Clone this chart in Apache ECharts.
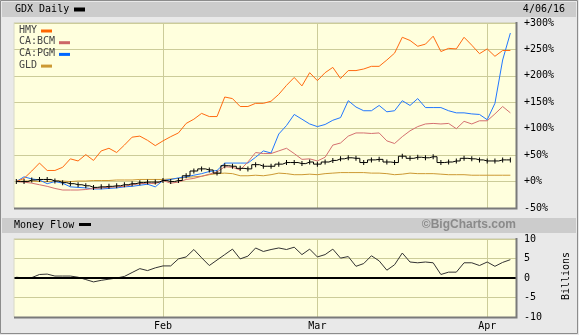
<!DOCTYPE html>
<html>
<head>
<meta charset="utf-8">
<script src="https://cdn.jsdelivr.net/npm/echarts@6/dist/echarts.min.js"></script>
<style>
  html, body { margin: 0; padding: 0; background: #e9e9e9; }
  #chart { width: 579px; height: 335px; }
</style>
</head>
<body>
<div id="chart"></div>
<script>
// Trading days, Jan 4 – Apr 6 2016
const dates = [
  '1/04','1/05','1/06','1/07','1/08','1/11','1/12','1/13','1/14','1/15',
  '1/19','1/20','1/21','1/22','1/25','1/26','1/27','1/28','1/29',
  '2/01','2/02','2/03','2/04','2/05','2/08','2/09','2/10','2/11','2/12',
  '2/16','2/17','2/18','2/19','2/22','2/23','2/24','2/25','2/26','2/29',
  '3/01','3/02','3/03','3/04','3/07','3/08','3/09','3/10','3/11','3/14',
  '3/15','3/16','3/17','3/18','3/21','3/22','3/23','3/24','3/28','3/29',
  '3/30','3/31',
  '4/01','4/04','4/05','4/06'
];

// Percent change since the first day
const hmy = [0,6,20,35,21,21,27,43,39,51, 40,58,63,55,69,84,86,78,68,77,
  85,92,110,118,129,123,123,160,157,142, 142,148,148,152,165,182,197,181,206,191,
  206,216,195,210,210,213,218,218,230,243, 273,267,256,260,275,246,252,251,273,258,
  242,251,237,248,248];
const bcm = [0,-1,-3,-6,-9,-13,-16,-16,-16,-15, -13,-12,-11,-10,-9,-6,-4,-3,-4,2,
  -3,-1,4,6,10,14,18,28,27,22, 37,55,53,53,58,63,53,42,43,39,
  46,69,73,86,92,92,91,92,77,72, 85,96,104,109,110,109,110,100,114,109,
  115,115,128,142,130];
const pgm = [0,9,5,3,-4,0,-3,-10,-11,-12, -14,-14,-13,-12,-10,-9,-7,-5,-10,2,
  4,7,9,12,15,19,21,35,35,35, 35,46,58,54,90,106,127,118,109,104,
  108,116,121,153,141,134,134,144,132,134, 153,144,157,140,140,140,134,130,130,128,
  127,117,148,230,281];
const gld = [0,1,1,0,0,1,1,0,1,1, 2,2,2,3,3,3,4,4,4,4,
  5,6,8,9,10,13,15,16,15,11, 11,12,11,13,16,15,13,13,14,13,
  15,16,17,17,17,17,16,16,15,13, 14,16,15,15,15,14,13,13,13,12,
  12,12,12,12,12];
const gdx = [0,0,3,4,4,1,-2,-4,-6,-8, -11,-10,-9,-8,-6,-4,-2,-1,-1,2,
  0,2,11,20,24,22,16,30,29,25, 24,32,29,29,33,36,36,34,37,33,
  37,40,43,45,44,36,41,42,37,36, 48,44,46,45,47,36,37,39,44,43,
  41,39,39,41,41];

// Money flow, billions
const moneyFlow = [0.2,0,0.1,0.9,1.0,0.5,0.5,0.5,0.2,-0.4, -1.0,-0.6,-0.3,0,0.4,1.4,2.4,1.9,2.6,3.1,
  3.1,4.9,5.4,7.3,5.2,3.2,4.6,6.0,7.4,4.9, 5.6,7.7,6.8,7.3,7.7,7.3,7.9,6.0,7.4,5.4,
  6.0,7.4,5.1,5.5,3.0,3.7,5.7,4.4,2.0,3.4, 6.4,4.1,3.9,4.1,3.9,0.9,1.5,1.5,3.9,3.9,
  3.2,4.1,3.0,4.0,4.7];

const monthLabels = ['Feb', 'Mar', 'Apr'];
const pctTicks = { min: -50, max: 300, step: 50 };
const flowTicks = { min: -10, max: 10, step: 5 };

const seriesInfo = [
  { name: 'HMY',    data: hmy, line: '#ff6a10', swatch: '#ff6600' },
  { name: 'CA:BCM', data: bcm, line: '#d47070', swatch: '#cc6666' },
  { name: 'CA:PGM', data: pgm, line: '#2277ff', swatch: '#0066ff' },
  { name: 'GLD',    data: gld, line: '#cc9933', swatch: '#cc9933' }
];

// First trading day of each new month
const monthStarts = [];
for (let i = 1; i < dates.length; i++) {
  if (dates[i].split('/')[0] !== dates[i - 1].split('/')[0]) monthStarts.push(i);
}

const pairs = arr => arr.map((v, i) => [i, v]);
const MONO = 'DejaVu Sans Mono';
const GRIDC = '#cccc99';
const xMin = -0.3, xMax = dates.length - 1 + 0.73;

function monthLines(xi, yi) {
  return {
    type: 'custom', xAxisIndex: xi, yAxisIndex: yi, silent: true, z: 1,
    data: monthStarts.map(i => [i, 0]),
    renderItem(params, api) {
      const x = Math.round(api.coord([api.value(0), 0])[0]) + 0.5;
      const cs = params.coordSys;
      return { type: 'line', shape: { x1: x, y1: cs.y, x2: x, y2: cs.y + cs.height },
               style: { stroke: GRIDC, lineWidth: 1 } };
    }
  };
}

const legendGraphics = [];
seriesInfo.forEach((s, k) => {
  const y = 31 + k * 11.7;
  legendGraphics.push({ type: 'text', left: 19, top: y - 6, z: 100, silent: true,
    style: { text: s.name, font: '10px ' + MONO, fill: '#444' } });
  legendGraphics.push({ type: 'rect', z: 100, silent: true,
    shape: { x: 19 + s.name.length * 6 + 4, y: y - 1.5, width: 11, height: 3 },
    style: { fill: s.swatch } });
});

const chart = echarts.init(document.getElementById('chart'), null, { renderer: 'canvas' });
chart.setOption({
  animation: false,
  backgroundColor: '#e9e9e9',
  grid: [
    { left: 14, top: 23, width: 502, height: 185, show: true, backgroundColor: '#ffffdd', borderWidth: 0 },
    { left: 14, top: 239, width: 502, height: 78, show: true, backgroundColor: '#ffffdd', borderWidth: 0 }
  ],
  xAxis: [
    { type: 'value', gridIndex: 0, min: xMin, max: xMax, show: false },
    { type: 'value', gridIndex: 1, min: xMin, max: xMax,
      axisLine: { show: false }, axisTick: { show: false }, splitLine: { show: false },
      axisLabel: { customValues: monthStarts, margin: 4, verticalAlign: 'top',
        fontFamily: MONO, fontSize: 10, color: '#000',
        formatter: v => monthLabels[monthStarts.indexOf(Math.round(v))] || '' } }
  ],
  yAxis: [
    { type: 'value', gridIndex: 0, position: 'right', min: pctTicks.min, max: pctTicks.max, interval: pctTicks.step,
      axisLine: { show: false }, axisTick: { show: false },
      splitLine: { lineStyle: { color: GRIDC, width: 1 } },
      axisLabel: { margin: 8, fontFamily: MONO, fontSize: 10, color: '#000',
        formatter: v => (v >= 0 ? '+' : '') + v + '%' } },
    { type: 'value', gridIndex: 1, position: 'right', min: flowTicks.min, max: flowTicks.max, interval: flowTicks.step,
      axisLine: { show: false }, axisTick: { show: false },
      splitLine: { lineStyle: { color: GRIDC, width: 1 } },
      axisLabel: { margin: 8, fontFamily: MONO, fontSize: 10, color: '#000' } }
  ],
  series: [
    monthLines(0, 0),
    monthLines(1, 1),
    ...seriesInfo.slice().reverse().map(s => ({
      type: 'line', name: s.name, xAxisIndex: 0, yAxisIndex: 0, z: 3,
      data: pairs(s.data), showSymbol: false, symbol: 'none',
      lineStyle: { color: s.line, width: 1 }
    })),
    { type: 'line', name: 'GDX', xAxisIndex: 0, yAxisIndex: 0, z: 4,
      data: pairs(gdx), step: 'middle', symbol: 'rect', symbolSize: [1, 5], showSymbol: true,
      itemStyle: { color: '#000' }, lineStyle: { color: '#000', width: 1 } },
    { type: 'line', name: 'Money Flow', xAxisIndex: 1, yAxisIndex: 1, z: 4,
      data: pairs(moneyFlow), symbol: 'none', showSymbol: false,
      lineStyle: { color: '#333', width: 1 },
      markLine: { silent: true, symbol: ['none', 'none'], label: { show: false },
        lineStyle: { color: '#000', width: 2, type: 'solid' }, data: [{ yAxis: 0 }] } }
  ],
  graphic: [
    { type: 'rect', z: 0, silent: true, shape: { x: 0.5, y: 0.5, width: 577, height: 333 },
      style: { fill: 'none', stroke: '#8c8c8c', lineWidth: 1 } },
    { type: 'rect', z: 0, silent: true, shape: { x: 2, y: 2, width: 574, height: 15 }, style: { fill: '#cccccc' } },
    { type: 'rect', z: 0, silent: true, shape: { x: 2, y: 218, width: 574, height: 15 }, style: { fill: '#cccccc' } },
    { type: 'text', left: 15, top: 4, z: 100, silent: true,
      style: { text: 'GDX Daily', font: '10px ' + MONO, fill: '#000' } },
    { type: 'rect', z: 100, silent: true, shape: { x: 74, y: 7.5, width: 11, height: 4 }, style: { fill: '#000' } },
    { type: 'text', right: 14, top: 4, z: 100, silent: true,
      style: { text: '4/06/16', font: '10px ' + MONO, fill: '#000' } },
    { type: 'text', left: 14, top: 220, z: 100, silent: true,
      style: { text: 'Money Flow', font: '10px ' + MONO, fill: '#000' } },
    { type: 'rect', z: 100, silent: true, shape: { x: 79, y: 223, width: 12, height: 3 }, style: { fill: '#000' } },
    { type: 'text', z: 100, silent: true, x: 516, y: 225,
      style: { text: '\u00a9BigCharts.com', font: 'bold 12px "Liberation Sans"', fill: '#8a8a8a',
               align: 'right', verticalAlign: 'middle' } },
    { type: 'text', z: 100, silent: true, x: 566, y: 276, rotation: Math.PI / 2,
      style: { text: 'Billions', font: '10px ' + MONO, fill: '#000', align: 'center', verticalAlign: 'middle' } },
    // plot frames: light top/left edge, darker shadow on bottom/right
    { type: 'polyline', z: 100, silent: true, shape: { points: [[14, 208], [14, 22.5], [516, 22.5]] },
      style: { stroke: '#d8d8c8', lineWidth: 1, fill: 'none' } },
    { type: 'polyline', z: 100, silent: true, shape: { points: [[14, 208.5], [516.5, 208.5], [516.5, 22]] },
      style: { stroke: '#7a7a7a', lineWidth: 2, fill: 'none' } },
    { type: 'polyline', z: 100, silent: true, shape: { points: [[14, 317], [14, 238.5], [516, 238.5]] },
      style: { stroke: '#d8d8c8', lineWidth: 1, fill: 'none' } },
    { type: 'polyline', z: 100, silent: true, shape: { points: [[14, 317.5], [516.5, 317.5], [516.5, 238]] },
      style: { stroke: '#7a7a7a', lineWidth: 2, fill: 'none' } },
    ...legendGraphics
  ]
});
</script>
</body>
</html>
